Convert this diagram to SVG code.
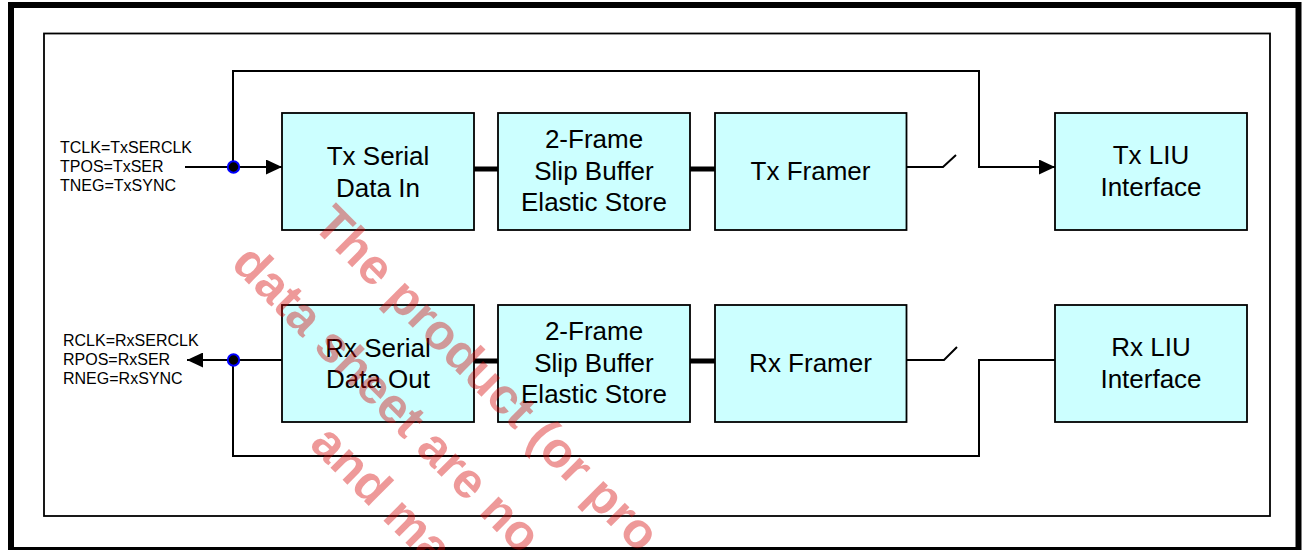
<svg xmlns="http://www.w3.org/2000/svg" width="1307" height="550" viewBox="0 0 1307 550">
<style>
.box{fill:#CCFFFF;stroke:#000;stroke-width:1.8}
.t{font-family:"Liberation Sans",Arial,sans-serif;font-size:26px;fill:#000;text-anchor:middle}
.lbl{font-family:"Liberation Sans",Arial,sans-serif;font-size:16px;fill:#000}
.ln{fill:none;stroke:#000;stroke-width:2}
.bus{fill:none;stroke:#000;stroke-width:5}
.dot{fill:#000;stroke:#0000FF;stroke-width:2}
.wm{font-family:"Liberation Sans",Arial,sans-serif;font-size:50px;font-weight:bold;fill:#D40000;fill-opacity:0.4}
</style>
<defs>
<marker id="arr" markerUnits="userSpaceOnUse" markerWidth="16" markerHeight="15" refX="16" refY="7.5" orient="auto">
<path d="M0,0 L16,7.5 L0,15 z" fill="#000"/>
</marker>
</defs>
<rect x="0" y="0" width="1307" height="550" fill="#fff"/>
<rect id="frame" x="11" y="5" width="1287.5" height="545" fill="none" stroke="#000" stroke-width="6"/>
<rect id="inner" x="44" y="33.5" width="1226" height="482.5" fill="none" stroke="#000" stroke-width="1.8"/>

<g id="labels">
<text class="lbl" x="60" y="153">TCLK=TxSERCLK</text>
<text class="lbl" x="60" y="172">TPOS=TxSER</text>
<text class="lbl" x="60" y="191">TNEG=TxSYNC</text>
<text class="lbl" x="63" y="346">RCLK=RxSERCLK</text>
<text class="lbl" x="63" y="365">RPOS=RxSER</text>
<text class="lbl" x="63" y="384">RNEG=RxSYNC</text>
</g>

<g id="connectors">
<path class="ln" d="M185,167 H282" marker-end="url(#arr)"/>
<path class="ln" d="M233,167 V71 H979 V167 H1055" marker-end="url(#arr)"/>
<path class="ln" d="M282,360 H187" marker-end="url(#arr)"/>
<path class="ln" d="M233,360 V456 H979 V360 H1055"/>
<path class="ln" d="M906,167 H943 L956,155"/>
<path class="ln" d="M906,360 H944 L957,347"/>
<path class="bus" d="M474,169 H498 M690,169 H715 M474,361 H498 M690,361 H715"/>
<circle class="dot" cx="233.5" cy="167" r="5.7"/>
<circle class="dot" cx="233.5" cy="360" r="5.7"/>
</g>

<g id="tx-serial"><rect class="box" x="282" y="113" width="192" height="117"/>
<text class="t" x="378" y="165">Tx Serial</text><text class="t" x="378" y="196.5">Data In</text></g>
<g id="tx-buffer"><rect class="box" x="498" y="113" width="192" height="117"/>
<text class="t" x="594" y="148">2-Frame</text><text class="t" x="594" y="179.5">Slip Buffer</text><text class="t" x="594" y="211">Elastic Store</text></g>
<g id="tx-framer"><rect class="box" x="715" y="113" width="191.5" height="117"/>
<text class="t" x="810.5" y="180">Tx Framer</text></g>
<g id="tx-liu"><rect class="box" x="1055" y="113" width="192" height="117"/>
<text class="t" x="1151" y="164">Tx LIU</text><text class="t" x="1151" y="196">Interface</text></g>

<g id="rx-serial"><rect class="box" x="282" y="305" width="192" height="117"/>
<text class="t" x="378" y="356.5">Rx Serial</text><text class="t" x="378" y="388">Data Out</text></g>
<g id="rx-buffer"><rect class="box" x="498" y="305" width="192" height="117"/>
<text class="t" x="594" y="340">2-Frame</text><text class="t" x="594" y="371.5">Slip Buffer</text><text class="t" x="594" y="403">Elastic Store</text></g>
<g id="rx-framer"><rect class="box" x="715" y="305" width="191.5" height="117"/>
<text class="t" x="810.5" y="372">Rx Framer</text></g>
<g id="rx-liu"><rect class="box" x="1055" y="305" width="192" height="117"/>
<text class="t" x="1151" y="356">Rx LIU</text><text class="t" x="1151" y="388">Interface</text></g>

<g id="watermark" transform="rotate(45)">
<text class="wm" x="380" y="-60">The product (or pro</text>
<text class="wm" x="350" y="25">data sheet are no</text>
<text class="wm" x="533" y="97">and ma</text>
</g>
</svg>
